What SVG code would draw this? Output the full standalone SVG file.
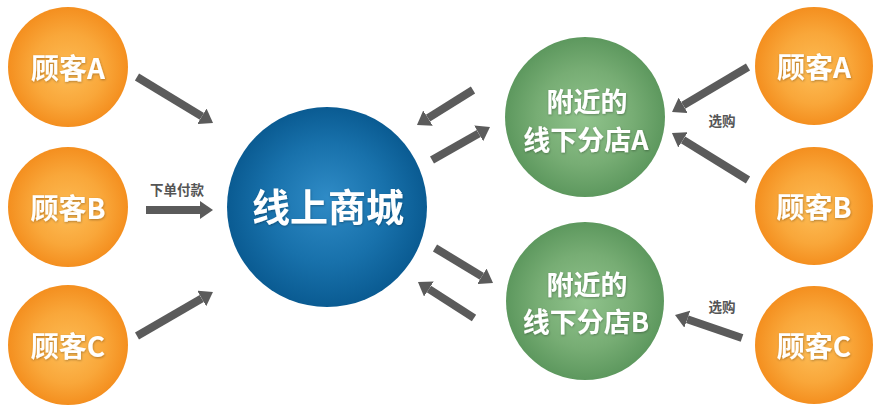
<svg xmlns="http://www.w3.org/2000/svg" width="880" height="410" viewBox="0 0 880 410">
<defs>
<radialGradient id="gO" cx="50%" cy="50%" r="50%" fx="50%" fy="55%">
<stop offset="0" stop-color="#fdbc55"/>
<stop offset="0.6" stop-color="#f9a73a"/>
<stop offset="1" stop-color="#f48f1f"/>
</radialGradient>
<radialGradient id="gB" cx="50%" cy="50%" r="50%" fx="50%" fy="45%">
<stop offset="0" stop-color="#2f8bc6"/>
<stop offset="0.6" stop-color="#1871ab"/>
<stop offset="1" stop-color="#0a5b92"/>
</radialGradient>
<radialGradient id="gG" cx="50%" cy="50%" r="50%" fx="50%" fy="50%">
<stop offset="0" stop-color="#90c38c"/>
<stop offset="0.6" stop-color="#77ad74"/>
<stop offset="1" stop-color="#5d985e"/>
</radialGradient>
<marker id="ah" viewBox="0 0 13 18" refX="0" refY="9" markerWidth="13" markerHeight="18" markerUnits="userSpaceOnUse" orient="auto">
<path d="M0,0 L13,9 L0,18 z" fill="#5b5b5b"/>
</marker>
<filter id="sh" x="-10%" y="-10%" width="120%" height="120%">
<feDropShadow dx="0.5" dy="1" stdDeviation="0.8" flood-color="#000" flood-opacity="0.3"/>
</filter>
</defs>
<style>
.t{font-family:"Noto Sans CJK SC","Noto Sans",sans-serif;font-weight:bold;fill:#fff;text-anchor:middle;dominant-baseline:central;filter:url(#sh)}
.o{font-size:28px}
.g{font-size:27px}
.b{font-size:38px}
.lbl{font-family:"Noto Sans CJK SC","Noto Sans",sans-serif;font-weight:bold;font-size:13.5px;fill:#555;text-anchor:middle;dominant-baseline:central}
.a{stroke:#5b5b5b;stroke-width:8;fill:none;marker-end:url(#ah)}
</style>
<rect width="880" height="410" fill="#fff"/>
<g id="connectors">
<line class="a" x1="137" y1="77" x2="201.9" y2="116.3"/>
<line class="a" x1="146" y1="210" x2="200" y2="210"/>
<line class="a" x1="137" y1="336" x2="201.7" y2="298.5"/>
<line class="a" x1="473" y1="90" x2="428" y2="118.1"/>
<line class="a" x1="432" y1="160" x2="478.7" y2="133.4"/>
<line class="a" x1="435" y1="248" x2="481.9" y2="276.3"/>
<line class="a" x1="474" y1="318" x2="428.9" y2="289"/>
<line class="a" x1="748" y1="67" x2="683.2" y2="105.4"/>
<line class="a" x1="748" y1="180" x2="683" y2="139.8"/>
<line class="a" x1="742" y1="338" x2="687.3" y2="319.2"/>
<text class="lbl" x="177" y="189">下单付款</text>
<text class="lbl" x="722" y="120">选购</text>
<text class="lbl" x="722" y="306">选购</text>
</g>
<g id="custA_left"><circle cx="68" cy="67" r="60" fill="url(#gO)"/><text class="t o" x="68" y="67">顾客A</text></g>
<g id="custB_left"><circle cx="68" cy="207" r="60" fill="url(#gO)"/><text class="t o" x="68" y="207">顾客B</text></g>
<g id="custC_left"><circle cx="68" cy="345" r="60" fill="url(#gO)"/><text class="t o" x="68" y="345">顾客C</text></g>
<g id="mall"><circle cx="327" cy="207" r="100" fill="url(#gB)"/><text class="t b" x="328" y="204">线上商城</text></g>
<g id="storeA"><circle cx="585" cy="117" r="80" fill="url(#gG)"/><text class="t g" x="587" y="100">附近的</text><text class="t g" x="586" y="138">线下分店A</text></g>
<g id="storeB"><circle cx="585" cy="301" r="79" fill="url(#gG)"/><text class="t g" x="587" y="283">附近的</text><text class="t g" x="586" y="320">线下分店B</text></g>
<g id="custA_right"><circle cx="814" cy="66" r="59" fill="url(#gO)"/><text class="t o" x="814" y="66">顾客A</text></g>
<g id="custB_right"><circle cx="814" cy="206" r="59" fill="url(#gO)"/><text class="t o" x="814" y="206">顾客B</text></g>
<g id="custC_right"><circle cx="814" cy="345" r="59" fill="url(#gO)"/><text class="t o" x="814" y="345">顾客C</text></g>
</svg>
